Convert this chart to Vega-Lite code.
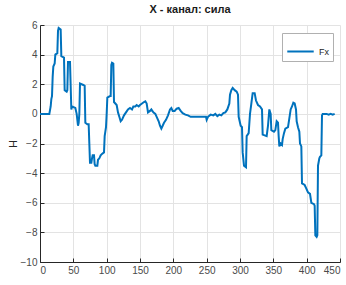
{
  "$schema": "https://vega.github.io/schema/vega-lite/v6.json",
  "autosize": {"type": "none"},
  "padding": {"left": 40, "top": 25, "right": 6, "bottom": 23},
  "width": 300,
  "height": 237,
  "background": "white",
  "title": {"text": "X - канал: сила", "font": "Liberation Sans", "fontSize": 11, "fontWeight": "bold", "color": "#1a1a1a", "offset": 5},
  "config": {
    "view": {"stroke": null},
    "axis": {"labelFont": "Liberation Sans", "titleFont": "Liberation Sans", "labelFontSize": 10, "titleFontSize": 11, "labelColor": "#4a4a4a", "titleColor": "#262626", "titleFontWeight": "normal", "domainColor": "#262626", "tickColor": "#262626", "gridColor": "#e3e3e3", "gridOpacity": 1}
  },
  "data": {"values": [
    {"t":0,"f":0},{"t":14,"f":0},{"t":16,"f":0.5},{"t":17,"f":1.0},{"t":18,"f":1.2},{"t":19,"f":2.5},{"t":20,"f":3.2},{"t":22,"f":3.4},{"t":23,"f":4.0},{"t":26,"f":4.1},{"t":27,"f":5.6},{"t":28,"f":5.8},{"t":31,"f":5.7},{"t":32,"f":3.9},{"t":36,"f":3.8},{"t":37,"f":1.6},{"t":40,"f":1.5},{"t":41,"f":1.6},{"t":42,"f":3.5},{"t":45,"f":3.5},{"t":47,"f":0.3},{"t":48,"f":0.5},{"t":53,"f":0.4},{"t":55,"f":0.0},{"t":57,"f":-0.8},{"t":58,"f":-0.6},{"t":59,"f":0.0},{"t":60,"f":2.05},{"t":65,"f":1.95},{"t":67,"f":1.9},{"t":68,"f":-0.6},{"t":71,"f":-0.7},{"t":73,"f":-0.7},{"t":74,"f":-2.0},{"t":75,"f":-3.3},{"t":77,"f":-3.3},{"t":78,"f":-3.0},{"t":79,"f":-2.8},{"t":81,"f":-2.8},{"t":82,"f":-3.4},{"t":83,"f":-3.5},{"t":86,"f":-3.5},{"t":87,"f":-3.1},{"t":89,"f":-3.0},{"t":91,"f":-2.8},{"t":93,"f":-2.7},{"t":96,"f":-2.6},{"t":97,"f":-1.5},{"t":99,"f":-0.9},{"t":100,"f":0.0},{"t":101,"f":1.1},{"t":105,"f":1.2},{"t":106,"f":1.2},{"t":107,"f":3.3},{"t":108,"f":3.45},{"t":110,"f":3.4},{"t":111,"f":0.8},{"t":113,"f":0.7},{"t":115,"f":0.6},{"t":117,"f":0.1},{"t":119,"f":-0.2},{"t":121,"f":-0.5},{"t":123,"f":-0.4},{"t":126,"f":-0.1},{"t":129,"f":0.1},{"t":132,"f":0.3},{"t":135,"f":0.4},{"t":138,"f":0.3},{"t":140,"f":0.5},{"t":143,"f":0.5},{"t":145,"f":0.6},{"t":148,"f":0.5},{"t":150,"f":0.6},{"t":153,"f":0.7},{"t":156,"f":0.8},{"t":158,"f":0.85},{"t":160,"f":0.7},{"t":162,"f":0.1},{"t":165,"f":0.2},{"t":167,"f":0.3},{"t":170,"f":0.1},{"t":173,"f":0.0},{"t":176,"f":-0.3},{"t":178,"f":-0.5},{"t":180,"f":-0.8},{"t":182,"f":-1.0},{"t":184,"f":-0.8},{"t":186,"f":-0.6},{"t":189,"f":-0.4},{"t":192,"f":-0.1},{"t":195,"f":0.3},{"t":197,"f":0.4},{"t":199,"f":0.2},{"t":202,"f":0.2},{"t":205,"f":0.35},{"t":208,"f":0.4},{"t":211,"f":0.2},{"t":214,"f":0.05},{"t":218,"f":-0.05},{"t":222,"f":-0.1},{"t":226,"f":-0.2},{"t":235,"f":-0.2},{"t":245,"f":-0.2},{"t":249,"f":-0.2},{"t":250,"f":-0.4},{"t":252,"f":-0.2},{"t":256,"f":-0.05},{"t":260,"f":-0.1},{"t":263,"f":0.0},{"t":266,"f":-0.15},{"t":269,"f":-0.05},{"t":272,"f":-0.1},{"t":275,"f":0.05},{"t":278,"f":0.1},{"t":281,"f":0.3},{"t":284,"f":0.7},{"t":285,"f":1.3},{"t":287,"f":1.6},{"t":289,"f":1.75},{"t":292,"f":1.6},{"t":295,"f":1.5},{"t":297,"f":1.3},{"t":298,"f":-0.2},{"t":301,"f":-0.8},{"t":303,"f":-0.9},{"t":304,"f":-2.6},{"t":306,"f":-3.5},{"t":309,"f":-3.6},{"t":310,"f":-1.5},{"t":313,"f":-1.3},{"t":315,"f":0.0},{"t":317,"f":0.7},{"t":319,"f":1.4},{"t":322,"f":1.4},{"t":324,"f":0.9},{"t":327,"f":0.6},{"t":330,"f":0.5},{"t":333,"f":0.3},{"t":334,"f":-1.4},{"t":340,"f":-1.5},{"t":342,"f":-0.8},{"t":344,"f":0.3},{"t":346,"f":0.0},{"t":347,"f":-1.1},{"t":351,"f":-1.2},{"t":353,"f":-1.1},{"t":355,"f":-0.5},{"t":357,"f":-0.6},{"t":358,"f":-1.5},{"t":359,"f":-2.2},{"t":361,"f":-2.0},{"t":363,"f":-2.1},{"t":364,"f":-1.7},{"t":366,"f":-1.3},{"t":368,"f":-1.0},{"t":372,"f":-0.9},{"t":374,"f":-0.3},{"t":376,"f":0.3},{"t":378,"f":0.5},{"t":380,"f":0.75},{"t":382,"f":0.7},{"t":384,"f":0.3},{"t":385,"f":-0.5},{"t":387,"f":-0.9},{"t":389,"f":-1.2},{"t":390,"f":-2.0},{"t":392,"f":-2.2},{"t":393,"f":-4.7},{"t":397,"f":-4.8},{"t":399,"f":-5.0},{"t":402,"f":-5.3},{"t":405,"f":-5.4},{"t":407,"f":-6.0},{"t":411,"f":-6.1},{"t":412,"f":-6.2},{"t":413,"f":-8.2},{"t":415,"f":-8.3},{"t":416,"f":-8.2},{"t":417,"f":-3.5},{"t":419,"f":-3.0},{"t":420,"f":-2.9},{"t":422,"f":-2.8},{"t":423,"f":-0.1},{"t":424,"f":0.0},{"t":430,"f":0.0},{"t":433,"f":-0.05},{"t":436,"f":0.0},{"t":439,"f":-0.05},{"t":442,"f":0.0}
  ]},
  "transform": [{"calculate": "'Fx'", "as": "series"}],
  "mark": {"type": "line", "strokeWidth": 2, "interpolate": "linear"},
  "encoding": {
    "x": {"field": "t", "type": "quantitative", "title": "с", "scale": {"domain": [0, 450], "nice": false, "zero": false}, "axis": {"values": [0,50,100,150,200,250,300,350,400,450], "tickSize": -4, "labelPadding": 7, "titlePadding": 8}},
    "y": {"field": "f", "type": "quantitative", "title": "Н", "scale": {"domain": [-10, 6], "nice": false}, "axis": {"values": [-10,-8,-6,-4,-2,0,2,4,6], "tickSize": -4, "labelPadding": 7, "titlePadding": 2}},
    "color": {"field": "series", "type": "nominal", "scale": {"range": ["#0072BD"]}, "legend": {"title": null, "orient": "none", "legendX": 242, "legendY": 8, "symbolType": "stroke", "symbolSize": 700, "symbolStrokeWidth": 2, "labelFont": "Liberation Sans", "labelFontSize": 9, "labelColor": "#262626", "strokeColor": "#b0b0b0", "fillColor": "white", "padding": 4}}
  }
}
